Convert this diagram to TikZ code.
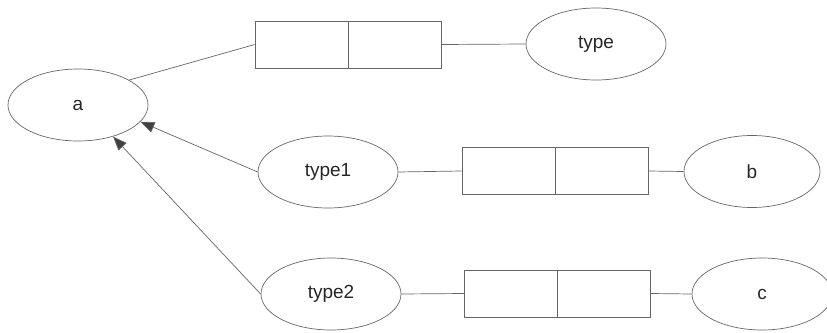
\documentclass[tikz,border=0pt]{standalone}
\usepackage{fontspec}
\setmainfont{Liberation Sans}
\usetikzlibrary{arrows.meta,shapes.geometric}
\begin{document}
\begin{tikzpicture}[x=1pt,y=-1pt,
  ln/.style={draw=black!60, line width=0.7pt},
  ell/.style={ellipse, ln, minimum width=140pt, minimum height=72pt, inner sep=0pt, font=\fontsize{19}{21}\selectfont, text=black!85},
  pair/.style={rectangle, ln, minimum width=186pt, minimum height=47pt, inner sep=0pt},
  arr/.style={ln, -{Triangle[length=14pt,width=11pt,fill=black!75]}}]
\useasboundingbox (0,0) rectangle (827,332);
\node[ell] (a) at (78,105) {a};
\node[pair] (p0) at (348,44.5) {};
\node[ell] (t0) at (596,44) {type};
\node[ell] (t1) at (328,172) {type1};
\node[pair] (p1) at (555,171) {};
\node[ell, minimum width=136pt] (b) at (752,171.5) {b};
\node[ell] (t2) at (331,294) {type2};
\node[pair] (p2) at (557.5,293.5) {};
\node[ell] (c) at (762,294) {c};
\foreach \p in {p0,p1,p2} \draw[ln] (\p.north) -- (\p.south);
\draw[ln] (a.26) -- (p0.west);
\draw[ln] (p0.east) -- (t0.west);
\draw[ln] (t1.east) -- (p1.west);
\draw[ln] (p1.east) -- (b.west);
\draw[ln] (t2.east) -- (p2.west);
\draw[ln] (p2.east) -- (c.west);
\draw[arr] (t1.west) -- (a.-15);
\draw[arr] (t2.west) -- (a.-42);
\end{tikzpicture}
\end{document}
